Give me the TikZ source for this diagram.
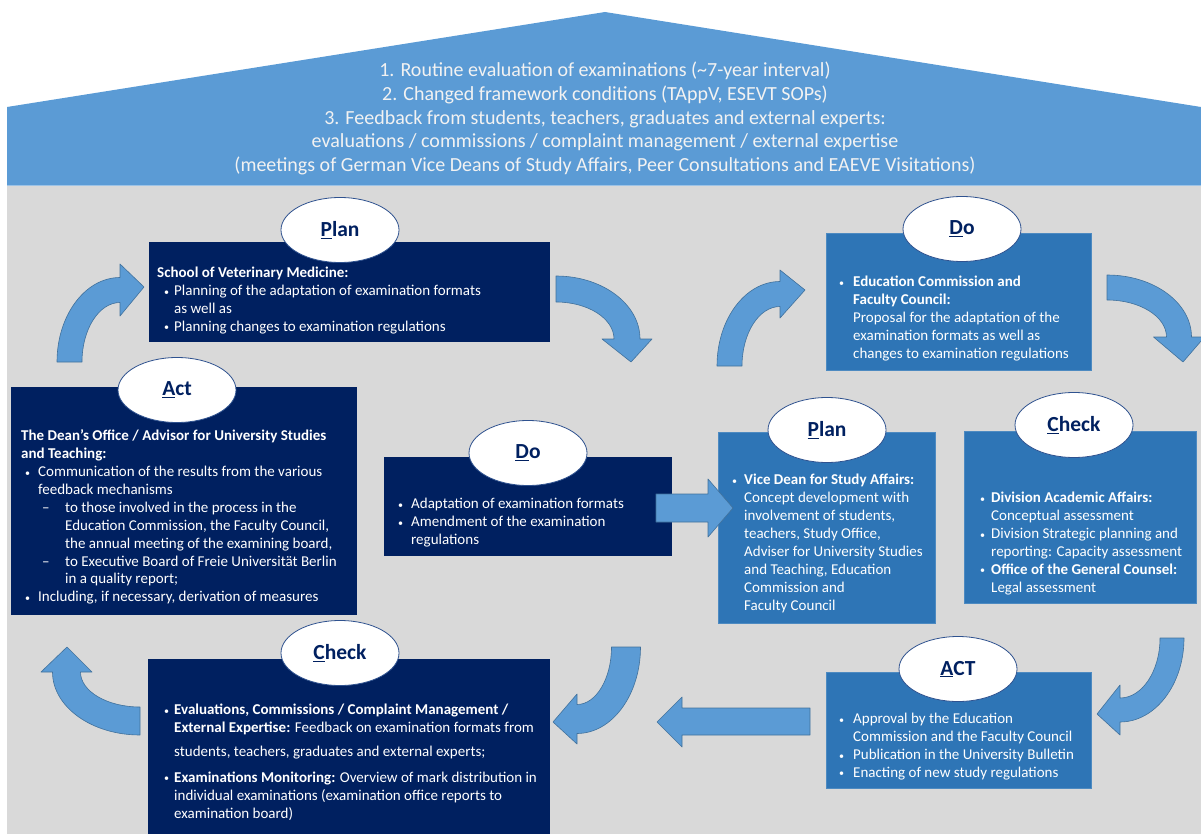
\documentclass[tikz,border=0pt]{standalone}
\usepackage{fontspec}
\setmainfont{Carlito}
\usetikzlibrary{shapes.geometric}

\definecolor{navy}{HTML}{002060}
\definecolor{midblue}{HTML}{2E75B6}
\definecolor{roofblue}{HTML}{5B9BD5}
\definecolor{roofedge}{HTML}{9DC3E6}
\definecolor{arrowfill}{HTML}{5B9BD5}
\definecolor{arrowline}{HTML}{41719C}
\definecolor{panel}{HTML}{D9D9D9}
\definecolor{tagline}{HTML}{2F528F}
\definecolor{tagtext}{HTML}{002060}
\definecolor{headtext}{HTML}{F2F2F2}

% small bullet in a box of given width, and a plain indent
\newcommand{\pbul}[1]{\makebox[#1][l]{\hspace*{1pt}\raisebox{0.5pt}{\fontsize{10}{10}\selectfont •}}}
\newcommand{\pind}[1]{\hspace*{#1}}
\newcommand{\pdash}{\makebox[22pt][l]{\hspace*{-1pt}–}}

% curved block arrow along an elliptical arc
% #1,#2 centre; #3,#4 mid radii; #5 shaft width; #6 start angle; #7 head angle;
% #8 half width of head; #9 tip point
\newcommand{\carrow}[9]{%
  \filldraw[blockarrow]
    ([shift={(#6:{#3+#5/2} and {#4+#5/2})}]#1,#2)
    arc[start angle=#6, end angle=#7, x radius={#3+#5/2}, y radius={#4+#5/2}]
    -- ([shift={(#7:{#3+#8} and {#4+#8})}]#1,#2)
    -- #9
    -- ([shift={(#7:{#3-#8} and {#4-#8})}]#1,#2)
    -- ([shift={(#7:{#3-#5/2} and {#4-#5/2})}]#1,#2)
    arc[start angle=#7, end angle=#6, x radius={#3-#5/2}, y radius={#4-#5/2}]
    -- cycle;}

\tikzset{
  navybox/.style={fill=navy, draw=none, anchor=north west, inner sep=0pt},
  bluebox/.style={fill=midblue, draw=midblue!85!white, line width=0.5pt, anchor=north west, inner sep=0pt},
  tag/.style={ellipse, draw=tagline, line width=0.8pt, fill=white, inner sep=0pt,
    minimum width=118pt, minimum height=65pt, text=tagtext,
    font=\fontsize{21.5}{24}\selectfont\bfseries},
  body/.style={anchor=north west, inner sep=0pt, align=left, text=white,
    font=\fontsize{15}{17.9}\selectfont},
  blockarrow/.style={fill=arrowfill, draw=arrowline, line width=0.6pt, line join=round},
}

\begin{document}
\begin{tikzpicture}[x=1pt, y=-1pt]
\useasboundingbox (0,0) rectangle (1201,834);

% grey panel and roof
\fill[panel] (7,185) rectangle (1201,834);
\fill[roofblue] (7,107) -- (605,12) -- (1201,107) -- (1201,185) -- (7,185) -- cycle;
\draw[roofedge, line width=1pt] (7,185.5) -- (1201,185.5);

\node[anchor=center, align=center, text=headtext, inner sep=0pt,
      font=\fontsize{20}{23.8}\selectfont] (header) at (605,118.5)
  {1. Routine evaluation of examinations (\textasciitilde7-year interval)\\
   2. Changed framework conditions (TAppV, ESEVT SOPs)\\
   3. Feedback from students, teachers, graduates and external experts:\\
   evaluations / commissions / complaint management / external expertise\\
   (meetings of German Vice Deans of Study Affairs, Peer Consultations and EAEVE Visitations)};

% boxes
\node[navybox, minimum width=401pt, minimum height=100pt] (pbox) at (149,242) {};
\node[navybox, minimum width=346pt, minimum height=228pt] (abox) at (11,387) {};
\node[navybox, minimum width=288pt, minimum height=99pt] (dbox) at (384,457) {};
\node[navybox, minimum width=402pt, minimum height=175pt] (cbbox) at (148,659) {};
\node[bluebox, minimum width=217pt, minimum height=191pt] (pmbox) at (718,432) {};
\node[bluebox, minimum width=265pt, minimum height=137pt] (dtbox) at (826,233) {};
\node[bluebox, minimum width=232pt, minimum height=172pt] (crbox) at (964,431) {};
\node[bluebox, minimum width=265pt, minimum height=116pt] (abrbox) at (826,672) {};

% box texts
\node[body] (ptext) at (157,265) {\strut\textbf{School of Veterinary Medicine:}\\
  \pind{6pt}\pbul{11pt}Planning of the adaptation of examination formats\\
  \pind{17pt}as well as\\
  \pind{6pt}\pbul{11pt}Planning changes to examination regulations};

\node[body] (atext) at (21,428) {\strut\textbf{The Dean’s Office / Advisor for University Studies}\\
  \textbf{and Teaching:}\\
  \pind{3pt}\pbul{14pt}Communication of the results from the various\\
  \pind{17pt}feedback mechanisms\\
  \pind{22pt}\pdash to those involved in the process in the\\
  \pind{44pt}Education Commission, the Faculty Council,\\
  \pind{44pt}the annual meeting of the examining board,\\
  \pind{22pt}\pdash to Executive Board of Freie Universität Berlin\\
  \pind{44pt}in a quality report;\\
  \pind{3pt}\pbul{14pt}Including, if necessary, derivation of measures};

\node[body] (dtext) at (397,496) {\strut\pbul{14pt}Adaptation of examination formats\\
  \pbul{14pt}Amendment of the examination\\
  \pind{14pt}regulations};

\node[body] (pmtext) at (731,472) {\strut\pbul{13pt}\textbf{Vice Dean for Study Affairs:}\\
  \pind{13pt}Concept development with\\
  \pind{13pt}involvement of students,\\
  \pind{13pt}teachers, Study Office,\\
  \pind{13pt}Adviser for University Studies\\
  \pind{13pt}and Teaching, Education\\
  \pind{13pt}Commission and\\
  \pind{13pt}Faculty Council};

\node[body] (dttext) at (838,274) {\strut\pbul{15pt}\textbf{Education Commission and}\\
  \pind{15pt}\textbf{Faculty Council:}\\
  \pind{15pt}Proposal for the adaptation of the\\
  \pind{15pt}examination formats as well as\\
  \pind{15pt}changes to examination regulations};

\node[body] (crtext) at (979,490) {\strut\pbul{12pt}\textbf{Division Academic Affairs:}\\
  \pind{12pt}Conceptual assessment\\
  \pbul{12pt}Division Strategic planning and\\
  \pind{12pt}reporting: Capacity assessment\\
  \pbul{12pt}\textbf{Office of the General Counsel:}\\
  \pind{12pt}Legal assessment};

\node[body] (cbtext) at (163,702) {\strut\pbul{11pt}\textbf{Evaluations, Commissions / Complaint Management /}\\
  \pind{11pt}\textbf{External Expertise:} Feedback on examination formats from\\[6pt]
  \pind{11pt}students, teachers, graduates and external experts;\\[8pt]
  \pbul{11pt}\textbf{Examinations Monitoring:} Overview of mark distribution in\\
  \pind{11pt}individual examinations (examination office reports to\\
  \pind{11pt}examination board)};

\node[body] (abrtext) at (838,711) {\strut\pbul{15pt}Approval by the Education\\
  \pind{15pt}Commission and the Faculty Council\\
  \pbul{15pt}Publication in the University Bulletin\\
  \pbul{15pt}Enacting of new study regulations};

% PDCA tags
\node[tag] (tplan) at (340,230) {\underline{P}lan};
\node[tag] (tact) at (177,390) {\underline{A}ct};
\node[tag] (tdo) at (528,453) {\underline{D}o};
\node[tag] (tplanm) at (827,430) {\underline{P}lan};
\node[tag] (tdot) at (962,229) {\underline{D}o};
\node[tag] (tcheckr) at (1074,425) {\underline{C}heck};
\node[tag] (tcheckb) at (340,653) {\underline{C}heck};
\node[tag] (tactb) at (958,669) {\underline{A}CT};

% curved arrows of the two cycles
\carrow{120}{362}{50.5}{72}{25}{180}{270}{26}{(144,287)}
\carrow{556}{339}{71}{50}{26}{270}{360}{25}{(631,362)}
\carrow{780}{366}{50.5}{72}{25}{180}{270}{24}{(805,290)}
\carrow{1107}{337}{72}{49.5}{25}{270}{360}{25.5}{(1183,362)}
\carrow{1120}{638}{52}{72}{24}{0}{90}{25}{(1097,714)}
\carrow{577}{647}{49}{72}{29}{0}{90}{25}{(553,722)}
\carrow{140}{672}{73.5}{49}{28}{90}{180}{25.5}{(67,647)}

% straight block arrows
\filldraw[blockarrow] (656,494) -- (708,494) -- (708,479) -- (733,508)
  -- (708,537) -- (708,522) -- (656,522) -- cycle;
\filldraw[blockarrow] (810,708) -- (682,708) -- (682,697) -- (657,722)
  -- (682,747) -- (682,735) -- (810,735) -- cycle;
\end{tikzpicture}
\end{document}
